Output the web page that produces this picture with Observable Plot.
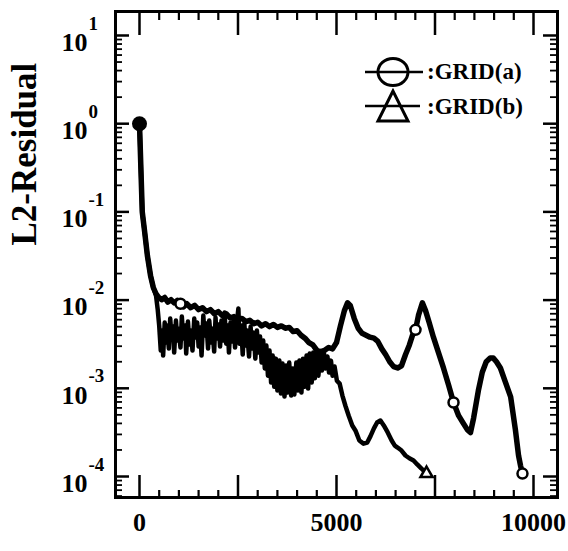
<!DOCTYPE html>
<html>
<head>
<meta charset="utf-8">
<script src="https://cdn.jsdelivr.net/npm/d3@7"></script>
<script src="https://cdn.jsdelivr.net/npm/@observablehq/plot@0.6"></script>
<style>
  html, body { margin: 0; padding: 0; background: #fff; }
  #chart { width: 568px; height: 551px; }
</style>
</head>
<body>
<div id="chart"></div>
<script>
// ---------------- data ----------------
const iterA = [0, 70, 130, 200, 280, 350, 420, 480, 560, 640, 720, 800, 880, 960, 1040, 1120, 1200, 1300, 1400, 1500, 1600, 1700, 1800, 1900, 2000, 2100, 2200, 2300, 2400, 2500, 2600, 2700, 2800, 2900, 3000, 3100, 3200, 3300, 3400, 3500, 3600, 3700, 3800, 3900, 4000, 4100, 4200, 4300, 4400, 4500, 4600, 4700, 4800, 4900, 5000, 5100, 5200, 5280, 5350, 5450, 5550, 5650, 5750, 5850, 5950, 6050, 6150, 6250, 6350, 6450, 6550, 6650, 6750, 6850, 6930, 7005, 7080, 7180, 7260, 7350, 7460, 7580, 7715, 7850, 7970, 8100, 8220, 8320, 8400, 8480, 8600, 8700, 8800, 8900, 8980, 9060, 9160, 9280, 9420, 9540, 9620, 9670, 9720];
const resA = [1.0, 0.1, 0.06, 0.032, 0.019, 0.0139, 0.0118, 0.0108, 0.0101, 0.0107, 0.0095, 0.0101, 0.0093, 0.0099, 0.0091, 0.0084, 0.0091, 0.0082, 0.0087, 0.0078, 0.0082, 0.0074, 0.0078, 0.0070, 0.0074, 0.0067, 0.0070, 0.0063, 0.0065, 0.0060, 0.0062, 0.0057, 0.0059, 0.0054, 0.0056, 0.0051, 0.0054, 0.0050, 0.0053, 0.0049, 0.0051, 0.0048, 0.0049, 0.0044, 0.0045, 0.0040, 0.0037, 0.0033, 0.0031, 0.0027, 0.0026, 0.0027, 0.0029, 0.0028, 0.0033, 0.0051, 0.0076, 0.0093, 0.0087, 0.0062, 0.0048, 0.0042, 0.0040, 0.0038, 0.0037, 0.0034, 0.0028, 0.0024, 0.0020, 0.00176, 0.0017, 0.0018, 0.0024, 0.0031, 0.0040, 0.0046, 0.0067, 0.0093, 0.0076, 0.0056, 0.0038, 0.0026, 0.0017, 0.00107, 0.00069, 0.00049, 0.00040, 0.00034, 0.000315, 0.00046, 0.00094, 0.00152, 0.0020, 0.0022, 0.0022, 0.0020, 0.0017, 0.0012, 0.00080, 0.00034, 0.000173, 0.000133, 0.000108];

const iterB = [0, 70, 130, 200, 280, 350, 420, 460, 500, 540, 575, 600, 640, 675, 700, 745, 780, 810, 850, 880, 925, 960, 990, 1040, 1075, 1110, 1160, 1185, 1230, 1270, 1300, 1345, 1390, 1420, 1465, 1500, 1540, 1575, 1620, 1650, 1700, 1740, 1770, 1820, 1850, 1895, 1930, 1960, 2010, 2045, 2080, 2120, 2160, 2200, 2240, 2270, 2310, 2350, 2390, 2425, 2460, 2510, 2540, 2580, 2620, 2660, 2700, 2730, 2780, 2820, 2850, 2900, 2940, 2980, 3020, 3060, 3100, 3140, 3180, 3220, 3260, 3300, 3340, 3380, 3420, 3460, 3500, 3550, 3590, 3630, 3680, 3720, 3760, 3800, 3850, 3890, 3930, 3980, 4020, 4060, 4110, 4150, 4190, 4240, 4280, 4320, 4370, 4410, 4450, 4500, 4540, 4590, 4630, 4680, 4720, 4770, 4810, 4860, 4900, 4950, 5010, 5080, 5150, 5230, 5310, 5400, 5480, 5580, 5685, 5780, 5860, 5950, 6030, 6115, 6200, 6300, 6400, 6480, 6550, 6650, 6750, 6850, 6955, 7050, 7150, 7230, 7285];
const resB = [1.0, 0.1, 0.06, 0.032, 0.019, 0.0139, 0.0112, 0.0080, 0.00514, 0.00268, 0.00451, 0.00235, 0.00556, 0.00330, 0.00514, 0.00282, 0.00617, 0.00396, 0.00501, 0.00254, 0.00586, 0.00348, 0.00475, 0.00290, 0.00650, 0.00366, 0.00514, 0.00248, 0.00571, 0.00313, 0.00451, 0.00268, 0.00617, 0.00376, 0.00556, 0.00297, 0.00488, 0.00235, 0.00667, 0.00396, 0.00542, 0.00282, 0.00586, 0.00330, 0.00475, 0.00261, 0.00633, 0.00366, 0.00528, 0.00297, 0.00586, 0.00348, 0.00722, 0.00321, 0.00514, 0.00254, 0.00556, 0.00339, 0.00617, 0.00290, 0.00501, 0.00801, 0.00321, 0.00514, 0.00241, 0.00542, 0.00305, 0.00451, 0.00229, 0.00501, 0.00282, 0.00428, 0.00217, 0.00451, 0.00254, 0.00386, 0.00196, 0.00348, 0.00168, 0.00305, 0.00139, 0.00268, 0.00116, 0.00235, 0.00104, 0.00217, 0.000943, 0.00206, 0.000872, 0.00191, 0.000807, 0.00181, 0.000895, 0.00196, 0.000828, 0.00168, 0.000850, 0.00196, 0.000943, 0.00206, 0.000895, 0.00217, 0.00104, 0.00235, 0.000993, 0.00248, 0.00116, 0.00254, 0.00130, 0.00268, 0.00139, 0.00241, 0.00159, 0.00254, 0.00168, 0.00229, 0.00151, 0.00206, 0.00139, 0.00177, 0.00122, 0.00113, 0.000828, 0.000626, 0.000488, 0.000379, 0.000333, 0.000256, 0.000236, 0.000243, 0.000285, 0.000351, 0.000409, 0.000431, 0.000379, 0.000316, 0.000256, 0.000224, 0.000213, 0.000197, 0.000173, 0.000161, 0.000152, 0.000137, 0.000124, 0.000114, 0.000108];

const startIter = [0];
const startRes = [1.0];
const markIterA = [1040, 7005, 7970, 9720];
const markResA = [0.0091, 0.0046, 0.00069, 0.000108];
const markIterB = [7285];
const markResB = [0.000108];

const xLabelValues = [0, 5000, 10000];
const xLabels = ["0", "5000", "10000"];
const xMajorTicks = [0, 2500, 5000, 7500, 10000];
const yDecades = [-4, -3, -2, -1, 0, 1];
const yExponents = ["-4", "-3", "-2", "-1", "0", "1"];
const seriesNames = [":GRID(a)", ":GRID(b)"];
const yTitle = "L2-Residual";

// ---------------- layout ----------------
const W = 568, H = 551;
const mL = 115, mR = 11, mT = 11, mB = 54;
const fw = W - mL - mR, fh = H - mT - mB;
const serif = "'Liberation Serif', 'DejaVu Serif', serif";

const A = iterA.map((x, i) => ({x, y: resA[i]}));
const B = iterB.map((x, i) => ({x, y: resB[i]}));
const start = startIter.map((x, i) => ({x, y: startRes[i]}));
const mA = markIterA.map((x, i) => ({x, y: markResA[i]}));
const mBk = markIterB.map((x, i) => ({x, y: markResB[i]}));

const xMinorTicks = d3.range(0, 10001, 500).filter(v => !xMajorTicks.includes(v));
const yDomain = [Math.pow(10, -4.238), Math.pow(10, 1.272)];
const yMajor = yDecades.map(d => Math.pow(10, d));
const yMinor = [];
for (let d = -5; d <= 1; d++) for (let k = 2; k <= 9; k++) {
  const v = k * Math.pow(10, d);
  if (v > yDomain[0] && v < yDomain[1]) yMinor.push(v);
}

const chart = Plot.plot({
  width: W, height: H,
  marginLeft: mL, marginRight: mR, marginTop: mT, marginBottom: mB,
  x: {domain: [-609, 10609], axis: null},
  y: {type: "log", domain: yDomain, axis: null},
  style: {fontFamily: serif, background: "white", color: "black"},
  marks: [
    Plot.line(B, {x: "x", y: "y", stroke: "black", strokeWidth: 4.5, strokeLinejoin: "round"}),
    Plot.line(A, {x: "x", y: "y", stroke: "black", strokeWidth: 5.5, strokeLinejoin: "round"}),
    Plot.frame({stroke: "black", strokeWidth: 3}),
    // bottom ticks (inward)
    Plot.tickX(xMajorTicks, {x: d => d, insetTop: fh - 22, stroke: "black", strokeWidth: 2.5}),
    Plot.tickX(xMinorTicks, {x: d => d, insetTop: fh - 7, stroke: "black", strokeWidth: 2.2}),
    // top ticks
    Plot.tickX(xMajorTicks, {x: d => d, insetBottom: fh - 24, stroke: "black", strokeWidth: 2.5}),
    Plot.tickX(xMinorTicks, {x: d => d, insetBottom: fh - 9, stroke: "black", strokeWidth: 2.2}),
    // left ticks
    Plot.tickY(yMajor, {y: d => d, insetRight: fw - 14, stroke: "black", strokeWidth: 2.5}),
    Plot.tickY(yMinor, {y: d => d, insetRight: fw - 7, stroke: "black", strokeWidth: 1.8}),
    // right ticks
    Plot.tickY(yMajor, {y: d => d, insetLeft: fw - 14, stroke: "black", strokeWidth: 2.5}),
    Plot.tickY(yMinor, {y: d => d, insetLeft: fw - 7, stroke: "black", strokeWidth: 1.8}),
    // markers
    Plot.dot(start, {x: "x", y: "y", r: 7.5, fill: "black", stroke: "none"}),
    Plot.dot(mA, {x: "x", y: "y", r: 5, symbol: "circle", fill: "white", stroke: "black", strokeWidth: 2.5}),
    Plot.dot(mBk, {x: "x", y: "y", r: 4.5, symbol: "triangle", fill: "white", stroke: "black", strokeWidth: 2.5}),
    // x tick labels
    Plot.text(xLabelValues, {x: d => d, text: (d, i) => xLabels[i], frameAnchor: "bottom", dy: 33,
      fontSize: 26, fontWeight: "bold", fontFamily: serif, fill: "black"}),
    // y tick labels: 10 with superscript exponent
    Plot.text(yMajor, {y: d => d, text: () => "10", frameAnchor: "left", textAnchor: "end", dx: -28, dy: 7,
      fontSize: 26, fontWeight: "bold", fontFamily: serif, fill: "black"}),
    Plot.text(yMajor, {y: d => d, text: (d, i) => yExponents[i], frameAnchor: "left", textAnchor: "start", dx: -27, dy: -12,
      fontSize: 19, fontWeight: "bold", fontFamily: serif, fill: "black"}),
    // y title
    Plot.text([yTitle], {text: d => d, frameAnchor: "left", rotate: -90, dx: -91, dy: -9,
      fontSize: 35, fontWeight: "bold", fontFamily: serif, fill: "black"})
  ]
});

document.getElementById("chart").appendChild(chart);

// ---------------- legend (inside the frame, top right) ----------------
const svg = d3.select(chart);
const lg = svg.append("g").attr("fill", "none").attr("stroke", "black");
lg.append("line").attr("x1", 365).attr("x2", 423).attr("y1", 72).attr("y2", 72).attr("stroke-width", 2.5);
lg.append("ellipse").attr("cx", 393).attr("cy", 72).attr("rx", 15).attr("ry", 13.5).attr("stroke-width", 3);
lg.append("line").attr("x1", 365).attr("x2", 420).attr("y1", 106).attr("y2", 106).attr("stroke-width", 2.5);
lg.append("polygon").attr("points", "393,91 378,121 408,121").attr("stroke-width", 3).attr("stroke-linejoin", "miter");
const lt = svg.append("g").attr("font-family", serif).attr("font-weight", "bold").attr("font-size", 23)
  .attr("fill", "black").attr("text-anchor", "start");
lt.append("text").attr("x", 427).attr("y", 79).attr("text-anchor", "start").text(seriesNames[0]);
lt.append("text").attr("x", 427).attr("y", 114).attr("text-anchor", "start").text(seriesNames[1]);
</script>
</body>
</html>
